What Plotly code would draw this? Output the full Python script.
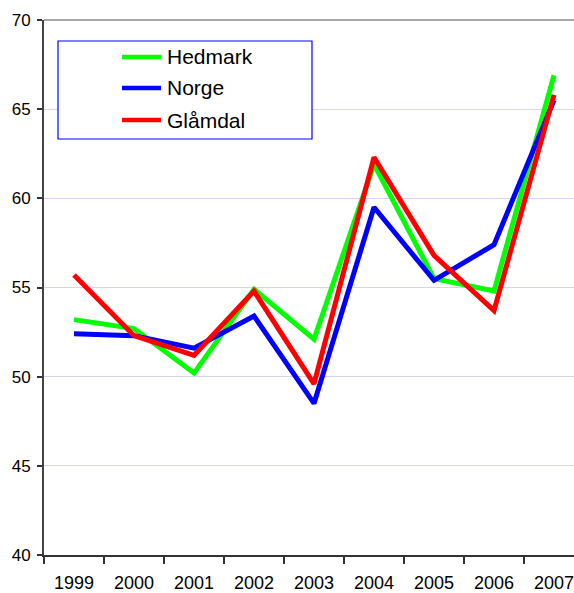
import plotly.graph_objects as go

# Years on the category axis
years = ["1999", "2000", "2001", "2002", "2003", "2004", "2005", "2006", "2007"]

# Series values
hedmark = [53.2, 52.7, 50.2, 54.9, 52.1, 61.9, 55.5, 54.8, 66.9]
norge = [52.4, 52.3, 51.6, 53.4, 48.5, 59.5, 55.4, 57.4, 65.5]
glamdal = [55.7, 52.3, 51.2, 54.8, 49.6, 62.3, 56.8, 53.7, 65.8]

series_names = ["Hedmark", "Norge", "Glåmdal"]
series_values = [hedmark, norge, glamdal]
series_colors = ["#00ff00", "#0000ff", "#ff0000"]

y_ticks = [40, 45, 50, 55, 60, 65, 70]

W, H = 574, 593
ML, MT, MB, MR = 44, 20, 38, 0
PW = W - ML - MR
PH = H - MT - MB

FONT = "Liberation Sans, Arial, sans-serif"

fig = go.Figure()
for name, vals, col in zip(series_names, series_values, series_colors):
    fig.add_trace(go.Scatter(
        x=years, y=vals, mode="lines", name=name,
        line=dict(color=col, width=5),
        showlegend=False,
    ))


def px_x(px):
    return (px - ML) / PW


def px_y(py):
    return 1 - (py - MT) / PH


shapes = []
annotations = []

# top border of the plot area
shapes.append(dict(type="line", xref="paper", yref="paper",
                   x0=0, x1=1, y0=1, y1=1,
                   line=dict(color="#8a8a8a", width=1.5)))

# legend box
shapes.append(dict(type="rect", xref="paper", yref="paper",
                   x0=px_x(58), x1=px_x(312), y0=px_y(139), y1=px_y(41),
                   line=dict(color="#0000ff", width=1.2),
                   fillcolor="white", layer="above"))
legend_rows = [57, 88, 120]
for name, col, row in zip(series_names, series_colors, legend_rows):
    shapes.append(dict(type="line", xref="paper", yref="paper",
                       x0=px_x(122), x1=px_x(161), y0=px_y(row), y1=px_y(row),
                       line=dict(color=col, width=4.5), layer="above"))
    annotations.append(dict(xref="paper", yref="paper",
                            x=px_x(165), y=px_y(row),
                            xanchor="left", yanchor="middle",
                            text=name, showarrow=False,
                            font=dict(family=FONT, size=21, color="black")))

fig.update_layout(
    width=W, height=H,
    margin=dict(l=ML, r=MR, t=MT, b=MB, pad=0),
    paper_bgcolor="white",
    plot_bgcolor="white",
    font=dict(family=FONT, color="black"),
    shapes=shapes,
    annotations=annotations,
    showlegend=False,
)

fig.update_xaxes(
    type="category",
    range=[-0.5, -0.5 + PW / 60.0],
    tickson="boundaries",
    ticks="outside", ticklen=7, tickwidth=1.5, tickcolor="#333333",
    showline=True, linecolor="#333333", linewidth=2,
    showgrid=False, zeroline=False,
    tickfont=dict(family=FONT, size=18, color="black"),
    ticklabelstandoff=10,
)

fig.update_yaxes(
    range=[40, 70],
    tickvals=y_ticks,
    ticks="outside", ticklen=5, tickwidth=1.5, tickcolor="#333333",
    showline=True, linecolor="#444444", linewidth=2,
    showgrid=True, gridcolor="#d4d4f7", gridwidth=1,
    zeroline=False,
    tickfont=dict(family=FONT, size=17, color="black"),
    ticklabelstandoff=3,
)

fig.write_html("out.html")
